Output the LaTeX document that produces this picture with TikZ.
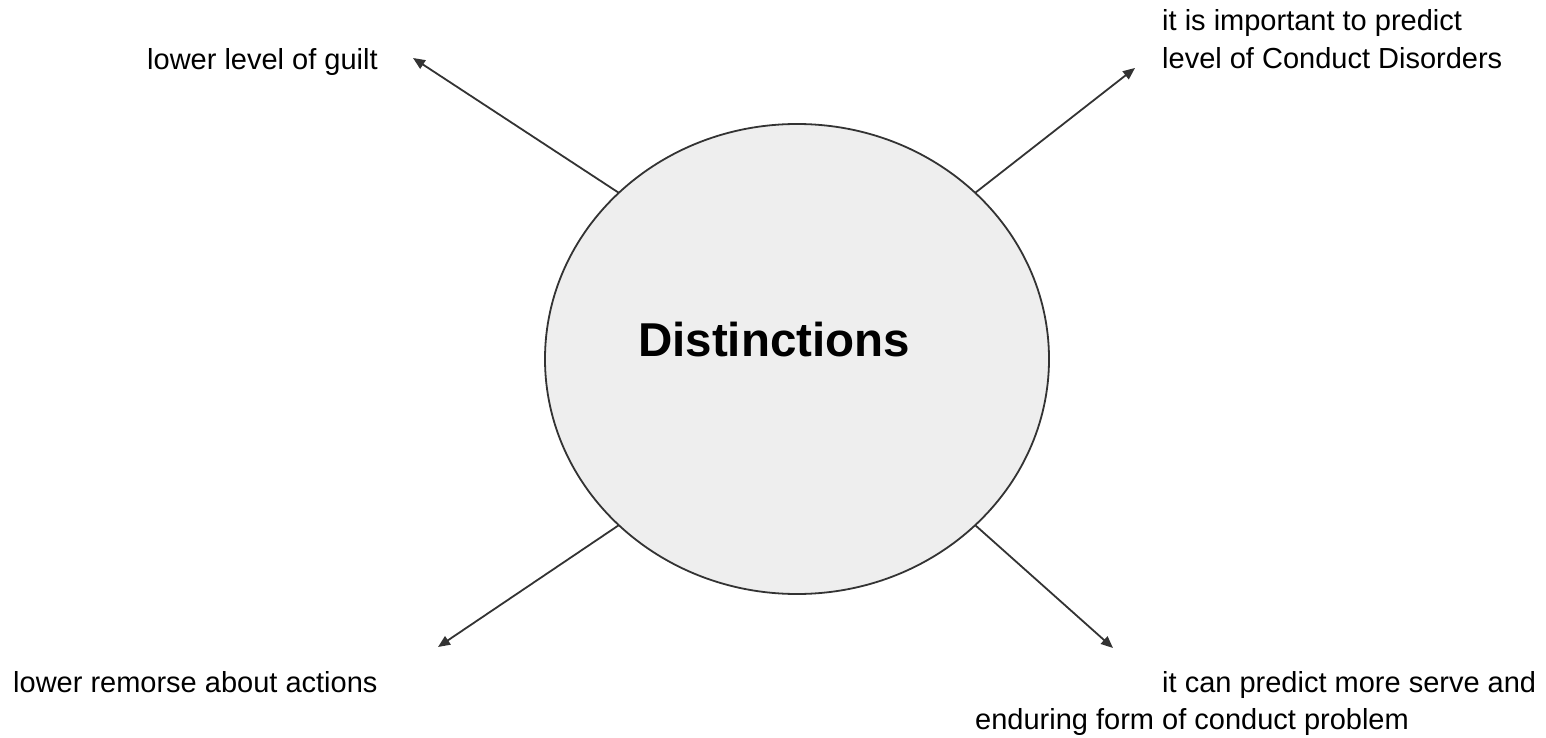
\documentclass[tikz,border=0pt]{standalone}
\usepackage{fontspec}
\setmainfont{Liberation Sans}
\usetikzlibrary{arrows.meta,shapes.geometric}
\definecolor{hubfill}{HTML}{EEEEEE}
\definecolor{inkline}{HTML}{333333}
\tikzset{
  hub/.style={ellipse, draw=inkline, line width=1.8pt, fill=hubfill,
    minimum width=504pt, minimum height=470pt, inner sep=0pt, outer sep=0pt},
  hubtext/.style={font=\fontsize{47.5}{56}\selectfont\bfseries},
  leaf/.style={font=\fontsize{29}{35}\selectfont, anchor=base west, inner sep=0pt},
  link/.style={draw=inkline, line width=1.8pt, -{Triangle[length=12pt,width=10pt]}}
}
\begin{document}
\begin{tikzpicture}[x=1pt,y=-1pt]
\useasboundingbox (0,0) rectangle (1546,738);

% central hub
\node[hub] (c) at (797,359) {};
\node[hubtext] (ct) at (774,340) {Distinctions};

% arrow tips
\coordinate (tl) at (413,58);
\coordinate (tr) at (1135,68);
\coordinate (bl) at (438,647);
\coordinate (br) at (1113,648);

\draw[link] (c.137) -- (tl);
\draw[link] (c.43) -- (tr);
\draw[link] (c.223) -- (bl);
\draw[link] (c.317) -- (br);

% labels
\node[leaf] (l1) at (147,70) {lower level of guilt};
\node[leaf] (r1a) at (1162,31) {it is important to predict};
\node[leaf] (r1b) at (1162,69) {level of Conduct Disorders};
\node[leaf] (l2) at (13,692) {lower remorse about actions};
\node[leaf] (r2a) at (1162,692) {it can predict more serve and};
\node[leaf] (r2b) at (975,729) {enduring form of conduct problem};
\end{tikzpicture}
\end{document}
